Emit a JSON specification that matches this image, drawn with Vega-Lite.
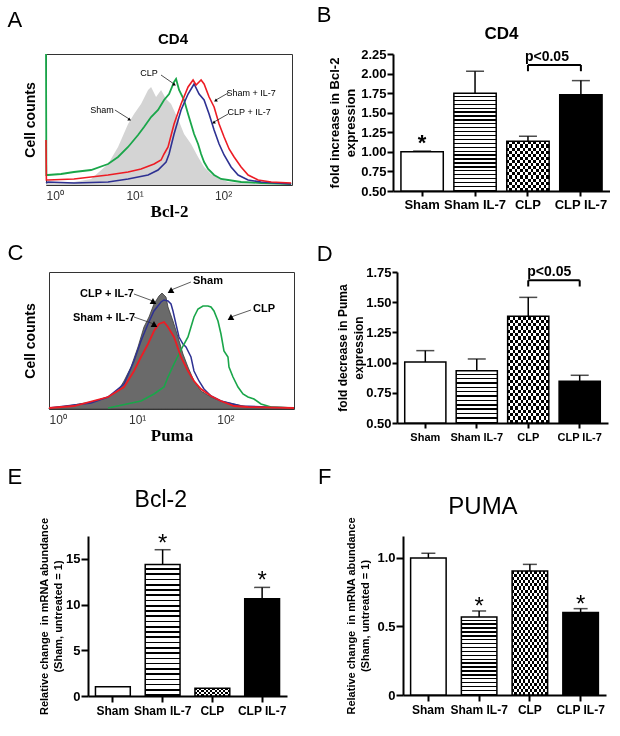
{
"$schema":"https://vega.github.io/schema/vega-lite/v6.json",
"padding":{"left":0,"top":4,"right":0,"bottom":0},
"background":"#ffffff",
"params":[
{"name":"st25","value":{"gradient":"linear","x1":0,"y1":0,"x2":0,"y2":1,"stops":[{"offset":0,"color":"#fff"},{"offset":0.027,"color":"#fff"},{"offset":0.027,"color":"#000"},{"offset":0.04,"color":"#000"},{"offset":0.04,"color":"#fff"},{"offset":0.067,"color":"#fff"},{"offset":0.067,"color":"#000"},{"offset":0.08,"color":"#000"},{"offset":0.08,"color":"#fff"},{"offset":0.107,"color":"#fff"},{"offset":0.107,"color":"#000"},{"offset":0.12,"color":"#000"},{"offset":0.12,"color":"#fff"},{"offset":0.147,"color":"#fff"},{"offset":0.147,"color":"#000"},{"offset":0.16,"color":"#000"},{"offset":0.16,"color":"#fff"},{"offset":0.187,"color":"#fff"},{"offset":0.187,"color":"#000"},{"offset":0.2,"color":"#000"},{"offset":0.2,"color":"#fff"},{"offset":0.227,"color":"#fff"},{"offset":0.227,"color":"#000"},{"offset":0.24,"color":"#000"},{"offset":0.24,"color":"#fff"},{"offset":0.267,"color":"#fff"},{"offset":0.267,"color":"#000"},{"offset":0.28,"color":"#000"},{"offset":0.28,"color":"#fff"},{"offset":0.307,"color":"#fff"},{"offset":0.307,"color":"#000"},{"offset":0.32,"color":"#000"},{"offset":0.32,"color":"#fff"},{"offset":0.347,"color":"#fff"},{"offset":0.347,"color":"#000"},{"offset":0.36,"color":"#000"},{"offset":0.36,"color":"#fff"},{"offset":0.387,"color":"#fff"},{"offset":0.387,"color":"#000"},{"offset":0.4,"color":"#000"},{"offset":0.4,"color":"#fff"},{"offset":0.427,"color":"#fff"},{"offset":0.427,"color":"#000"},{"offset":0.44,"color":"#000"},{"offset":0.44,"color":"#fff"},{"offset":0.467,"color":"#fff"},{"offset":0.467,"color":"#000"},{"offset":0.48,"color":"#000"},{"offset":0.48,"color":"#fff"},{"offset":0.507,"color":"#fff"},{"offset":0.507,"color":"#000"},{"offset":0.52,"color":"#000"},{"offset":0.52,"color":"#fff"},{"offset":0.547,"color":"#fff"},{"offset":0.547,"color":"#000"},{"offset":0.56,"color":"#000"},{"offset":0.56,"color":"#fff"},{"offset":0.587,"color":"#fff"},{"offset":0.587,"color":"#000"},{"offset":0.6,"color":"#000"},{"offset":0.6,"color":"#fff"},{"offset":0.627,"color":"#fff"},{"offset":0.627,"color":"#000"},{"offset":0.64,"color":"#000"},{"offset":0.64,"color":"#fff"},{"offset":0.667,"color":"#fff"},{"offset":0.667,"color":"#000"},{"offset":0.68,"color":"#000"},{"offset":0.68,"color":"#fff"},{"offset":0.707,"color":"#fff"},{"offset":0.707,"color":"#000"},{"offset":0.72,"color":"#000"},{"offset":0.72,"color":"#fff"},{"offset":0.747,"color":"#fff"},{"offset":0.747,"color":"#000"},{"offset":0.76,"color":"#000"},{"offset":0.76,"color":"#fff"},{"offset":0.787,"color":"#fff"},{"offset":0.787,"color":"#000"},{"offset":0.8,"color":"#000"},{"offset":0.8,"color":"#fff"},{"offset":0.827,"color":"#fff"},{"offset":0.827,"color":"#000"},{"offset":0.84,"color":"#000"},{"offset":0.84,"color":"#fff"},{"offset":0.867,"color":"#fff"},{"offset":0.867,"color":"#000"},{"offset":0.88,"color":"#000"},{"offset":0.88,"color":"#fff"},{"offset":0.907,"color":"#fff"},{"offset":0.907,"color":"#000"},{"offset":0.92,"color":"#000"},{"offset":0.92,"color":"#fff"},{"offset":0.947,"color":"#fff"},{"offset":0.947,"color":"#000"},{"offset":0.96,"color":"#000"},{"offset":0.96,"color":"#fff"},{"offset":0.987,"color":"#fff"},{"offset":0.987,"color":"#000"},{"offset":1,"color":"#000"}]}},
{"name":"st12","value":{"gradient":"linear","x1":0,"y1":0,"x2":0,"y2":1,"stops":[{"offset":0,"color":"#fff"},{"offset":0.0556,"color":"#fff"},{"offset":0.0556,"color":"#000"},{"offset":0.0833,"color":"#000"},{"offset":0.0833,"color":"#fff"},{"offset":0.1389,"color":"#fff"},{"offset":0.1389,"color":"#000"},{"offset":0.1667,"color":"#000"},{"offset":0.1667,"color":"#fff"},{"offset":0.2222,"color":"#fff"},{"offset":0.2222,"color":"#000"},{"offset":0.25,"color":"#000"},{"offset":0.25,"color":"#fff"},{"offset":0.3056,"color":"#fff"},{"offset":0.3056,"color":"#000"},{"offset":0.3333,"color":"#000"},{"offset":0.3333,"color":"#fff"},{"offset":0.3889,"color":"#fff"},{"offset":0.3889,"color":"#000"},{"offset":0.4167,"color":"#000"},{"offset":0.4167,"color":"#fff"},{"offset":0.4722,"color":"#fff"},{"offset":0.4722,"color":"#000"},{"offset":0.5,"color":"#000"},{"offset":0.5,"color":"#fff"},{"offset":0.5556,"color":"#fff"},{"offset":0.5556,"color":"#000"},{"offset":0.5833,"color":"#000"},{"offset":0.5833,"color":"#fff"},{"offset":0.6389,"color":"#fff"},{"offset":0.6389,"color":"#000"},{"offset":0.6667,"color":"#000"},{"offset":0.6667,"color":"#fff"},{"offset":0.7222,"color":"#fff"},{"offset":0.7222,"color":"#000"},{"offset":0.75,"color":"#000"},{"offset":0.75,"color":"#fff"},{"offset":0.8056,"color":"#fff"},{"offset":0.8056,"color":"#000"},{"offset":0.8333,"color":"#000"},{"offset":0.8333,"color":"#fff"},{"offset":0.8889,"color":"#fff"},{"offset":0.8889,"color":"#000"},{"offset":0.9167,"color":"#000"},{"offset":0.9167,"color":"#fff"},{"offset":0.9722,"color":"#fff"},{"offset":0.9722,"color":"#000"},{"offset":1,"color":"#000"}]}},
{"name":"st20","value":{"gradient":"linear","x1":0,"y1":0,"x2":0,"y2":1,"stops":[{"offset":0,"color":"#fff"},{"offset":0.033,"color":"#fff"},{"offset":0.033,"color":"#000"},{"offset":0.05,"color":"#000"},{"offset":0.05,"color":"#fff"},{"offset":0.083,"color":"#fff"},{"offset":0.083,"color":"#000"},{"offset":0.1,"color":"#000"},{"offset":0.1,"color":"#fff"},{"offset":0.133,"color":"#fff"},{"offset":0.133,"color":"#000"},{"offset":0.15,"color":"#000"},{"offset":0.15,"color":"#fff"},{"offset":0.183,"color":"#fff"},{"offset":0.183,"color":"#000"},{"offset":0.2,"color":"#000"},{"offset":0.2,"color":"#fff"},{"offset":0.233,"color":"#fff"},{"offset":0.233,"color":"#000"},{"offset":0.25,"color":"#000"},{"offset":0.25,"color":"#fff"},{"offset":0.283,"color":"#fff"},{"offset":0.283,"color":"#000"},{"offset":0.3,"color":"#000"},{"offset":0.3,"color":"#fff"},{"offset":0.333,"color":"#fff"},{"offset":0.333,"color":"#000"},{"offset":0.35,"color":"#000"},{"offset":0.35,"color":"#fff"},{"offset":0.383,"color":"#fff"},{"offset":0.383,"color":"#000"},{"offset":0.4,"color":"#000"},{"offset":0.4,"color":"#fff"},{"offset":0.433,"color":"#fff"},{"offset":0.433,"color":"#000"},{"offset":0.45,"color":"#000"},{"offset":0.45,"color":"#fff"},{"offset":0.483,"color":"#fff"},{"offset":0.483,"color":"#000"},{"offset":0.5,"color":"#000"},{"offset":0.5,"color":"#fff"},{"offset":0.533,"color":"#fff"},{"offset":0.533,"color":"#000"},{"offset":0.55,"color":"#000"},{"offset":0.55,"color":"#fff"},{"offset":0.583,"color":"#fff"},{"offset":0.583,"color":"#000"},{"offset":0.6,"color":"#000"},{"offset":0.6,"color":"#fff"},{"offset":0.633,"color":"#fff"},{"offset":0.633,"color":"#000"},{"offset":0.65,"color":"#000"},{"offset":0.65,"color":"#fff"},{"offset":0.683,"color":"#fff"},{"offset":0.683,"color":"#000"},{"offset":0.7,"color":"#000"},{"offset":0.7,"color":"#fff"},{"offset":0.733,"color":"#fff"},{"offset":0.733,"color":"#000"},{"offset":0.75,"color":"#000"},{"offset":0.75,"color":"#fff"},{"offset":0.783,"color":"#fff"},{"offset":0.783,"color":"#000"},{"offset":0.8,"color":"#000"},{"offset":0.8,"color":"#fff"},{"offset":0.833,"color":"#fff"},{"offset":0.833,"color":"#000"},{"offset":0.85,"color":"#000"},{"offset":0.85,"color":"#fff"},{"offset":0.883,"color":"#fff"},{"offset":0.883,"color":"#000"},{"offset":0.9,"color":"#000"},{"offset":0.9,"color":"#fff"},{"offset":0.933,"color":"#fff"},{"offset":0.933,"color":"#000"},{"offset":0.95,"color":"#000"},{"offset":0.95,"color":"#fff"},{"offset":0.983,"color":"#fff"},{"offset":0.983,"color":"#000"},{"offset":1,"color":"#000"}]}},
{"name":"hb8","value":{"gradient":"linear","x1":0,"y1":0,"x2":0,"y2":1,"stops":[{"offset":0,"color":"#fff"},{"offset":0.0625,"color":"#fff"},{"offset":0.0625,"color":"#000"},{"offset":0.125,"color":"#000"},{"offset":0.125,"color":"#fff"},{"offset":0.1875,"color":"#fff"},{"offset":0.1875,"color":"#000"},{"offset":0.25,"color":"#000"},{"offset":0.25,"color":"#fff"},{"offset":0.3125,"color":"#fff"},{"offset":0.3125,"color":"#000"},{"offset":0.375,"color":"#000"},{"offset":0.375,"color":"#fff"},{"offset":0.4375,"color":"#fff"},{"offset":0.4375,"color":"#000"},{"offset":0.5,"color":"#000"},{"offset":0.5,"color":"#fff"},{"offset":0.5625,"color":"#fff"},{"offset":0.5625,"color":"#000"},{"offset":0.625,"color":"#000"},{"offset":0.625,"color":"#fff"},{"offset":0.6875,"color":"#fff"},{"offset":0.6875,"color":"#000"},{"offset":0.75,"color":"#000"},{"offset":0.75,"color":"#fff"},{"offset":0.8125,"color":"#fff"},{"offset":0.8125,"color":"#000"},{"offset":0.875,"color":"#000"},{"offset":0.875,"color":"#fff"},{"offset":0.9375,"color":"#fff"},{"offset":0.9375,"color":"#000"},{"offset":1,"color":"#000"}]}},
{"name":"vb8","value":{"gradient":"linear","x1":0,"y1":0,"x2":1,"y2":0,"stops":[{"offset":0,"color":"#fff"},{"offset":0.0625,"color":"#fff"},{"offset":0.0625,"color":"#000"},{"offset":0.125,"color":"#000"},{"offset":0.125,"color":"#fff"},{"offset":0.1875,"color":"#fff"},{"offset":0.1875,"color":"#000"},{"offset":0.25,"color":"#000"},{"offset":0.25,"color":"#fff"},{"offset":0.3125,"color":"#fff"},{"offset":0.3125,"color":"#000"},{"offset":0.375,"color":"#000"},{"offset":0.375,"color":"#fff"},{"offset":0.4375,"color":"#fff"},{"offset":0.4375,"color":"#000"},{"offset":0.5,"color":"#000"},{"offset":0.5,"color":"#fff"},{"offset":0.5625,"color":"#fff"},{"offset":0.5625,"color":"#000"},{"offset":0.625,"color":"#000"},{"offset":0.625,"color":"#fff"},{"offset":0.6875,"color":"#fff"},{"offset":0.6875,"color":"#000"},{"offset":0.75,"color":"#000"},{"offset":0.75,"color":"#fff"},{"offset":0.8125,"color":"#fff"},{"offset":0.8125,"color":"#000"},{"offset":0.875,"color":"#000"},{"offset":0.875,"color":"#fff"},{"offset":0.9375,"color":"#fff"},{"offset":0.9375,"color":"#000"},{"offset":1,"color":"#000"}]}},
{"name":"hb16","value":{"gradient":"linear","x1":0,"y1":0,"x2":0,"y2":1,"stops":[{"offset":0,"color":"#fff"},{"offset":0.03125,"color":"#fff"},{"offset":0.03125,"color":"#000"},{"offset":0.0625,"color":"#000"},{"offset":0.0625,"color":"#fff"},{"offset":0.09375,"color":"#fff"},{"offset":0.09375,"color":"#000"},{"offset":0.125,"color":"#000"},{"offset":0.125,"color":"#fff"},{"offset":0.15625,"color":"#fff"},{"offset":0.15625,"color":"#000"},{"offset":0.1875,"color":"#000"},{"offset":0.1875,"color":"#fff"},{"offset":0.21875,"color":"#fff"},{"offset":0.21875,"color":"#000"},{"offset":0.25,"color":"#000"},{"offset":0.25,"color":"#fff"},{"offset":0.28125,"color":"#fff"},{"offset":0.28125,"color":"#000"},{"offset":0.3125,"color":"#000"},{"offset":0.3125,"color":"#fff"},{"offset":0.34375,"color":"#fff"},{"offset":0.34375,"color":"#000"},{"offset":0.375,"color":"#000"},{"offset":0.375,"color":"#fff"},{"offset":0.40625,"color":"#fff"},{"offset":0.40625,"color":"#000"},{"offset":0.4375,"color":"#000"},{"offset":0.4375,"color":"#fff"},{"offset":0.46875,"color":"#fff"},{"offset":0.46875,"color":"#000"},{"offset":0.5,"color":"#000"},{"offset":0.5,"color":"#fff"},{"offset":0.53125,"color":"#fff"},{"offset":0.53125,"color":"#000"},{"offset":0.5625,"color":"#000"},{"offset":0.5625,"color":"#fff"},{"offset":0.59375,"color":"#fff"},{"offset":0.59375,"color":"#000"},{"offset":0.625,"color":"#000"},{"offset":0.625,"color":"#fff"},{"offset":0.65625,"color":"#fff"},{"offset":0.65625,"color":"#000"},{"offset":0.6875,"color":"#000"},{"offset":0.6875,"color":"#fff"},{"offset":0.71875,"color":"#fff"},{"offset":0.71875,"color":"#000"},{"offset":0.75,"color":"#000"},{"offset":0.75,"color":"#fff"},{"offset":0.78125,"color":"#fff"},{"offset":0.78125,"color":"#000"},{"offset":0.8125,"color":"#000"},{"offset":0.8125,"color":"#fff"},{"offset":0.84375,"color":"#fff"},{"offset":0.84375,"color":"#000"},{"offset":0.875,"color":"#000"},{"offset":0.875,"color":"#fff"},{"offset":0.90625,"color":"#fff"},{"offset":0.90625,"color":"#000"},{"offset":0.9375,"color":"#000"},{"offset":0.9375,"color":"#fff"},{"offset":0.96875,"color":"#fff"},{"offset":0.96875,"color":"#000"},{"offset":1,"color":"#000"}]}},
{"name":"hb20","value":{"gradient":"linear","x1":0,"y1":0,"x2":0,"y2":1,"stops":[{"offset":0,"color":"#fff"},{"offset":0.025,"color":"#fff"},{"offset":0.025,"color":"#000"},{"offset":0.05,"color":"#000"},{"offset":0.05,"color":"#fff"},{"offset":0.075,"color":"#fff"},{"offset":0.075,"color":"#000"},{"offset":0.1,"color":"#000"},{"offset":0.1,"color":"#fff"},{"offset":0.125,"color":"#fff"},{"offset":0.125,"color":"#000"},{"offset":0.15,"color":"#000"},{"offset":0.15,"color":"#fff"},{"offset":0.175,"color":"#fff"},{"offset":0.175,"color":"#000"},{"offset":0.2,"color":"#000"},{"offset":0.2,"color":"#fff"},{"offset":0.225,"color":"#fff"},{"offset":0.225,"color":"#000"},{"offset":0.25,"color":"#000"},{"offset":0.25,"color":"#fff"},{"offset":0.275,"color":"#fff"},{"offset":0.275,"color":"#000"},{"offset":0.3,"color":"#000"},{"offset":0.3,"color":"#fff"},{"offset":0.325,"color":"#fff"},{"offset":0.325,"color":"#000"},{"offset":0.35,"color":"#000"},{"offset":0.35,"color":"#fff"},{"offset":0.375,"color":"#fff"},{"offset":0.375,"color":"#000"},{"offset":0.4,"color":"#000"},{"offset":0.4,"color":"#fff"},{"offset":0.425,"color":"#fff"},{"offset":0.425,"color":"#000"},{"offset":0.45,"color":"#000"},{"offset":0.45,"color":"#fff"},{"offset":0.475,"color":"#fff"},{"offset":0.475,"color":"#000"},{"offset":0.5,"color":"#000"},{"offset":0.5,"color":"#fff"},{"offset":0.525,"color":"#fff"},{"offset":0.525,"color":"#000"},{"offset":0.55,"color":"#000"},{"offset":0.55,"color":"#fff"},{"offset":0.575,"color":"#fff"},{"offset":0.575,"color":"#000"},{"offset":0.6,"color":"#000"},{"offset":0.6,"color":"#fff"},{"offset":0.625,"color":"#fff"},{"offset":0.625,"color":"#000"},{"offset":0.65,"color":"#000"},{"offset":0.65,"color":"#fff"},{"offset":0.675,"color":"#fff"},{"offset":0.675,"color":"#000"},{"offset":0.7,"color":"#000"},{"offset":0.7,"color":"#fff"},{"offset":0.725,"color":"#fff"},{"offset":0.725,"color":"#000"},{"offset":0.75,"color":"#000"},{"offset":0.75,"color":"#fff"},{"offset":0.775,"color":"#fff"},{"offset":0.775,"color":"#000"},{"offset":0.8,"color":"#000"},{"offset":0.8,"color":"#fff"},{"offset":0.825,"color":"#fff"},{"offset":0.825,"color":"#000"},{"offset":0.85,"color":"#000"},{"offset":0.85,"color":"#fff"},{"offset":0.875,"color":"#fff"},{"offset":0.875,"color":"#000"},{"offset":0.9,"color":"#000"},{"offset":0.9,"color":"#fff"},{"offset":0.925,"color":"#fff"},{"offset":0.925,"color":"#000"},{"offset":0.95,"color":"#000"},{"offset":0.95,"color":"#fff"},{"offset":0.975,"color":"#fff"},{"offset":0.975,"color":"#000"},{"offset":1,"color":"#000"}]}},
{"name":"hb2","value":{"gradient":"linear","x1":0,"y1":0,"x2":0,"y2":1,"stops":[{"offset":0,"color":"#fff"},{"offset":0.25,"color":"#fff"},{"offset":0.25,"color":"#000"},{"offset":0.5,"color":"#000"},{"offset":0.5,"color":"#fff"},{"offset":0.75,"color":"#fff"},{"offset":0.75,"color":"#000"},{"offset":1,"color":"#000"}]}}
],
"config":{
"view":{"stroke":null},
"font":"Liberation Sans",
"axis":{"grid":false,"domainColor":"#000","tickColor":"#000","labelColor":"#000","titleColor":"#000","labelFont":"Liberation Sans","titleFont":"Liberation Sans"},
"title":{"color":"#000","font":"Liberation Sans"},
"text":{"font":"Liberation Sans","color":"#000"}
},
"datasets":{
"histA":[
{"s":"Sham","v":1,"c":3},{"s":"Sham","v":2.07,"c":3},{"s":"Sham","v":3.23,"c":6},{"s":"Sham","v":5.02,"c":21},{"s":"Sham","v":6.51,"c":38},{"s":"Sham","v":8.45,"c":61},{"s":"Sham","v":9.87,"c":71},{"s":"Sham","v":11.84,"c":81},{"s":"Sham","v":14.21,"c":95},{"s":"Sham","v":15.37,"c":98},{"s":"Sham","v":17.5,"c":88},{"s":"Sham","v":19.93,"c":95},{"s":"Sham","v":22.7,"c":86},{"s":"Sham","v":25.85,"c":81},{"s":"Sham","v":31,"c":66},{"s":"Sham","v":36.25,"c":51},{"s":"Sham","v":43.49,"c":41},{"s":"Sham","v":52.19,"c":28},{"s":"Sham","v":61,"c":18},{"s":"Sham","v":73.2,"c":11},{"s":"Sham","v":94.9,"c":6},{"s":"Sham","v":113.9,"c":3},{"s":"Sham","v":210,"c":1},{"s":"Sham","v":600,"c":0},
{"s":"CLP","v":1,"c":131},{"s":"CLP","v":1.01,"c":10},{"s":"CLP","v":1.05,"c":10},{"s":"CLP","v":1.48,"c":11},{"s":"CLP","v":2.07,"c":13},{"s":"CLP","v":3.23,"c":15},{"s":"CLP","v":5.02,"c":21},{"s":"CLP","v":6.51,"c":28},{"s":"CLP","v":8.45,"c":38},{"s":"CLP","v":10.95,"c":50},{"s":"CLP","v":12.8,"c":58},{"s":"CLP","v":15.37,"c":68},{"s":"CLP","v":18.43,"c":75},{"s":"CLP","v":21.54,"c":85},{"s":"CLP","v":24.54,"c":91},{"s":"CLP","v":27.94,"c":103},{"s":"CLP","v":29.44,"c":106},{"s":"CLP","v":31.83,"c":95},{"s":"CLP","v":36.25,"c":85},{"s":"CLP","v":40.21,"c":71},{"s":"CLP","v":43.49,"c":61},{"s":"CLP","v":47.02,"c":51},{"s":"CLP","v":52.19,"c":41},{"s":"CLP","v":56.42,"c":31},{"s":"CLP","v":61,"c":23},{"s":"CLP","v":67.69,"c":16},{"s":"CLP","v":79.14,"c":10},{"s":"CLP","v":94.93,"c":6},{"s":"CLP","v":113.9,"c":5},{"s":"CLP","v":159.7,"c":3},{"s":"CLP","v":268.8,"c":2},{"s":"CLP","v":586.7,"c":1},
{"s":"CLP + IL-7","v":1,"c":2},{"s":"CLP + IL-7","v":1.05,"c":3},{"s":"CLP + IL-7","v":2.07,"c":2},{"s":"CLP + IL-7","v":5.02,"c":3},{"s":"CLP + IL-7","v":8.45,"c":6},{"s":"CLP + IL-7","v":14.21,"c":10},{"s":"CLP + IL-7","v":18.43,"c":15},{"s":"CLP + IL-7","v":22.7,"c":23},{"s":"CLP + IL-7","v":24.54,"c":31},{"s":"CLP + IL-7","v":27.94,"c":51},{"s":"CLP + IL-7","v":33.52,"c":75},{"s":"CLP + IL-7","v":40.21,"c":91},{"s":"CLP + IL-7","v":47.02,"c":101},{"s":"CLP + IL-7","v":53.56,"c":91},{"s":"CLP + IL-7","v":61,"c":85},{"s":"CLP + IL-7","v":69.47,"c":71},{"s":"CLP + IL-7","v":79.14,"c":55},{"s":"CLP + IL-7","v":90.12,"c":41},{"s":"CLP + IL-7","v":102.6,"c":30},{"s":"CLP + IL-7","v":123.1,"c":18},{"s":"CLP + IL-7","v":147.7,"c":10},{"s":"CLP + IL-7","v":191.7,"c":5},{"s":"CLP + IL-7","v":268.8,"c":3},{"s":"CLP + IL-7","v":586.7,"c":1},
{"s":"Sham + IL-7","v":1,"c":45},{"s":"Sham + IL-7","v":1.01,"c":5},{"s":"Sham + IL-7","v":1.05,"c":5},{"s":"Sham + IL-7","v":2.07,"c":6},{"s":"Sham + IL-7","v":5.02,"c":10},{"s":"Sham + IL-7","v":8.45,"c":13},{"s":"Sham + IL-7","v":11.84,"c":16},{"s":"Sham + IL-7","v":16.61,"c":21},{"s":"Sham + IL-7","v":19.93,"c":25},{"s":"Sham + IL-7","v":21.54,"c":31},{"s":"Sham + IL-7","v":23.9,"c":38},{"s":"Sham + IL-7","v":27.94,"c":61},{"s":"Sham + IL-7","v":33.52,"c":81},{"s":"Sham + IL-7","v":40.21,"c":98},{"s":"Sham + IL-7","v":45.81,"c":105},{"s":"Sham + IL-7","v":49.53,"c":100},{"s":"Sham + IL-7","v":56.42,"c":105},{"s":"Sham + IL-7","v":61,"c":101},{"s":"Sham + IL-7","v":69.47,"c":88},{"s":"Sham + IL-7","v":79.14,"c":78},{"s":"Sham + IL-7","v":90.12,"c":61},{"s":"Sham + IL-7","v":102.6,"c":48},{"s":"Sham + IL-7","v":116.9,"c":36},{"s":"Sham + IL-7","v":133.2,"c":28},{"s":"Sham + IL-7","v":159.7,"c":18},{"s":"Sham + IL-7","v":191.7,"c":10},{"s":"Sham + IL-7","v":248.6,"c":5},{"s":"Sham + IL-7","v":348.7,"c":3},{"s":"Sham + IL-7","v":586.7,"c":2}
],
"histC":[
{"s":"Sham","v":1,"c":1},{"s":"Sham","v":1.37,"c":2},{"s":"Sham","v":2.99,"c":7},{"s":"Sham","v":4.67,"c":12},{"s":"Sham","v":6.06,"c":18},{"s":"Sham","v":7.09,"c":28},{"s":"Sham","v":8.51,"c":42},{"s":"Sham","v":10.21,"c":62},{"s":"Sham","v":11.94,"c":82},{"s":"Sham","v":13.61,"c":92},{"s":"Sham","v":15.5,"c":105},{"s":"Sham","v":17.67,"c":113},{"s":"Sham","v":19.11,"c":116},{"s":"Sham","v":21.21,"c":112},{"s":"Sham","v":22.35,"c":102},{"s":"Sham","v":25.46,"c":88},{"s":"Sham","v":29.01,"c":72},{"s":"Sham","v":33.06,"c":55},{"s":"Sham","v":37.67,"c":42},{"s":"Sham","v":44.06,"c":28},{"s":"Sham","v":52.89,"c":18},{"s":"Sham","v":68.66,"c":12},{"s":"Sham","v":89.15,"c":8},{"s":"Sham","v":125.2,"c":5},{"s":"Sham","v":180.4,"c":2},{"s":"Sham","v":600,"c":1},
{"s":"CLP + IL-7","v":1,"c":1},{"s":"CLP + IL-7","v":2.99,"c":6},{"s":"CLP + IL-7","v":4.67,"c":12},{"s":"CLP + IL-7","v":7.09,"c":25},{"s":"CLP + IL-7","v":9.2,"c":48},{"s":"CLP + IL-7","v":11.04,"c":68},{"s":"CLP + IL-7","v":13.26,"c":85},{"s":"CLP + IL-7","v":15.5,"c":98},{"s":"CLP + IL-7","v":18.62,"c":107},{"s":"CLP + IL-7","v":20.14,"c":109},{"s":"CLP + IL-7","v":22.35,"c":108},{"s":"CLP + IL-7","v":24.17,"c":105},{"s":"CLP + IL-7","v":25.46,"c":98},{"s":"CLP + IL-7","v":27.5,"c":85},{"s":"CLP + IL-7","v":29.78,"c":72},{"s":"CLP + IL-7","v":33.06,"c":65},{"s":"CLP + IL-7","v":35.75,"c":62},{"s":"CLP + IL-7","v":40.74,"c":52},{"s":"CLP + IL-7","v":44.06,"c":38},{"s":"CLP + IL-7","v":50.2,"c":28},{"s":"CLP + IL-7","v":57.21,"c":20},{"s":"CLP + IL-7","v":68.66,"c":13},{"s":"CLP + IL-7","v":89.15,"c":8},{"s":"CLP + IL-7","v":150.3,"c":3},{"s":"CLP + IL-7","v":600,"c":1},
{"s":"CLP","v":4.67,"c":1},{"s":"CLP","v":11.04,"c":8},{"s":"CLP","v":15.5,"c":15},{"s":"CLP","v":20.14,"c":22},{"s":"CLP","v":22.35,"c":32},{"s":"CLP","v":26.14,"c":45},{"s":"CLP","v":29.78,"c":55},{"s":"CLP","v":33.06,"c":63},{"s":"CLP","v":37.67,"c":72},{"s":"CLP","v":40.74,"c":82},{"s":"CLP","v":44.06,"c":92},{"s":"CLP","v":48.91,"c":100},{"s":"CLP","v":55.72,"c":103},{"s":"CLP","v":63.49,"c":103},{"s":"CLP","v":68.66,"c":102},{"s":"CLP","v":74.26,"c":98},{"s":"CLP","v":82.44,"c":88},{"s":"CLP","v":89.15,"c":75},{"s":"CLP","v":96.4,"c":58},{"s":"CLP","v":107,"c":52},{"s":"CLP","v":109.9,"c":42},{"s":"CLP","v":122,"c":32},{"s":"CLP","v":139,"c":22},{"s":"CLP","v":158.3,"c":15},{"s":"CLP","v":180.4,"c":12},{"s":"CLP","v":211,"c":10},{"s":"CLP","v":253.3,"c":5},{"s":"CLP","v":328.9,"c":2},{"s":"CLP","v":600,"c":1},
{"s":"Sham + IL-7","v":1,"c":1},{"s":"Sham + IL-7","v":1.92,"c":3},{"s":"Sham + IL-7","v":4.67,"c":12},{"s":"Sham + IL-7","v":7.09,"c":22},{"s":"Sham + IL-7","v":9.2,"c":38},{"s":"Sham + IL-7","v":11.04,"c":52},{"s":"Sham + IL-7","v":13.26,"c":65},{"s":"Sham + IL-7","v":15.5,"c":78},{"s":"Sham + IL-7","v":17.67,"c":85},{"s":"Sham + IL-7","v":20.14,"c":87},{"s":"Sham + IL-7","v":22.35,"c":82},{"s":"Sham + IL-7","v":26.14,"c":72},{"s":"Sham + IL-7","v":31.37,"c":52},{"s":"Sham + IL-7","v":37.67,"c":38},{"s":"Sham + IL-7","v":44.06,"c":28},{"s":"Sham + IL-7","v":52.89,"c":20},{"s":"Sham + IL-7","v":68.66,"c":13},{"s":"Sham + IL-7","v":89.15,"c":8},{"s":"Sham + IL-7","v":125.2,"c":3},{"s":"Sham + IL-7","v":180.4,"c":2},{"s":"Sham + IL-7","v":600,"c":1}
],
"annA":[
{"label":"CLP","tx":14.6,"ty":112,"x1":19.9,"y1":110,"x2":27.9,"y2":101},
{"label":"Sham","tx":4.3,"ty":75,"x1":6.0,"y1":75,"x2":8.7,"y2":66},
{"label":"Sham + IL-7","tx":207,"ty":92,"x1":114,"y1":92,"x2":83,"y2":85},
{"label":"CLP + IL-7","tx":197,"ty":73,"x1":114,"y1":71,"x2":79,"y2":63}
],
"annC":[
{"label":"Sham","tx":63.5,"ty":128,"x1":40.7,"y1":127,"x2":24.2,"y2":119},
{"label":"CLP + IL-7","tx":4.55,"ty":115,"x1":9.2,"y1":115,"x2":15.1,"y2":108},
{"label":"Sham + IL-7","tx":4.2,"ty":91,"x1":9.2,"y1":92,"x2":15.5,"y2":85},
{"label":"CLP","tx":274,"ty":100,"x1":195,"y1":99,"x2":115.7,"y2":92}
],
"barB":[{"g":"Sham","m":1.0,"e":1.01,"sig":"*"},{"g":"Sham IL-7","m":1.75,"e":2.03,"sig":""},{"g":"CLP","m":1.135,"e":1.2,"sig":""},{"g":"CLP IL-7","m":1.73,"e":1.91,"sig":""}],
"barD":[{"g":"Sham","m":1.005,"e":1.099,"sig":""},{"g":"Sham IL-7","m":0.933,"e":1.03,"sig":""},{"g":"CLP","m":1.383,"e":1.54,"sig":""},{"g":"CLP IL-7","m":0.845,"e":0.895,"sig":""}],
"barE":[{"g":"Sham","m":1.0,"e":1.0,"sig":""},{"g":"Sham IL-7","m":14.37,"e":16.0,"sig":"*"},{"g":"CLP","m":0.85,"e":0.85,"sig":""},{"g":"CLP IL-7","m":10.65,"e":11.88,"sig":"*"}],
"barF":[{"g":"Sham","m":1.0,"e":1.034,"sig":""},{"g":"Sham IL-7","m":0.569,"e":0.613,"sig":"*"},{"g":"CLP","m":0.905,"e":0.953,"sig":""},{"g":"CLP IL-7","m":0.601,"e":0.63,"sig":"*"}],
"brB":[{"from":"CLP","to":"CLP IL-7","y":2.11,"yl":2.03,"label":"p<0.05"}],
"brD":[{"from":"CLP","to":"CLP IL-7","y":1.681,"yl":1.63,"label":"p<0.05"}]
},
"spacing":21,
"vconcat":[
{"spacing":20,"hconcat":[
 {"spacing":0,"hconcat":[
  {"width":7,"height":10,"data":{"values":[]},"mark":{"type":"point","opacity":0}},
  {"title":{"text":"A","anchor":"start","frame":"bounds","fontSize":22,"fontWeight":"normal","dx":-15,"offset":0},
   "vconcat":[{
    "width":246,"height":131,
    "view":{"stroke":"#333","strokeWidth":1},
    "title":{"text":"CD4","fontSize":15,"fontWeight":"bold","frame":"group","offset":3,"dx":4},
    "encoding":{
     "x":{"field":"v","type":"quantitative","scale":{"type":"log","domain":[1,600],"nice":false},"axis":{"title":"Bcl-2","titleFont":"Liberation Serif","titleFontSize":17,"titleFontWeight":"bold","values":[1,10,100],"labelExpr":"datum.value==1?'10⁰':datum.value==10?'10¹':'10²'","ticks":false,"domain":false,"labelFontSize":12,"labelColor":"#333","labelPadding":5,"titlePadding":2,"labelFlush":true}},
     "y":{"field":"c","type":"quantitative","scale":{"domain":[0,131],"nice":false},"axis":{"title":"Cell counts","labels":false,"ticks":false,"domain":false,"titleFontSize":14,"titleFontWeight":"bold","titlePadding":9}}
    },
    "layer":[
     {"data":{"name":"histA"},"transform":[{"filter":"datum.s==='Sham'"}],"mark":{"type":"area","color":"#d4d4d4"}},
     {"data":{"name":"histA"},"transform":[{"filter":"datum.s==='CLP'"}],"mark":{"type":"line","color":"#1aa64a","strokeWidth":1.8}},
     {"data":{"name":"histA"},"transform":[{"filter":"datum.s==='CLP + IL-7'"}],"mark":{"type":"line","color":"#2e3192","strokeWidth":1.6}},
     {"data":{"name":"histA"},"transform":[{"filter":"datum.s==='Sham + IL-7'"}],"mark":{"type":"line","color":"#ed1c24","strokeWidth":1.6}},
     {"data":{"name":"annA"},"mark":{"type":"rule","color":"#222","strokeWidth":0.8},"encoding":{"x":{"field":"x1","type":"quantitative"},"y":{"field":"y1","type":"quantitative"},"x2":{"field":"x2"},"y2":{"field":"y2"}}},
     {"data":{"name":"annA"},"mark":{"type":"point","shape":"triangle-up","filled":true,"color":"#000","size":14,"opacity":1},"encoding":{"x":{"field":"x2","type":"quantitative"},"y":{"field":"y2","type":"quantitative"}}},
     {"data":{"name":"annA"},"mark":{"type":"text","fontSize":9},"encoding":{"x":{"field":"tx","type":"quantitative"},"y":{"field":"ty","type":"quantitative"},"text":{"field":"label"}}}
    ]
   }]}
 ]},
 {"title":{"text":"B","anchor":"start","frame":"bounds","fontSize":22,"fontWeight":"normal","dx":-12,"offset":-2},
  "vconcat":[{
   "width":217,"height":137,
   "title":{"text":"CD4","fontSize":17,"fontWeight":"bold","frame":"group","offset":5},
   "data":{"name":"barB"},
   "encoding":{
    "x":{"field":"g","type":"nominal","sort":null,"scale":{"domain":["Sham","Sham IL-7","CLP","CLP IL-7"],"paddingInner":0.2,"paddingOuter":0.15},"axis":{"title":null,"labelAngle":0,"labelFontSize":13,"labelFontWeight":"bold","labelPadding":2,"tickSize":5,"tickWidth":2,"domainWidth":2,"labelOverlap":false,"labelBound":false}},
    "y":{"field":"m","type":"quantitative","scale":{"domain":[0.5,2.25],"nice":false,"zero":false},"axis":{"title":["fold increase in Bcl-2","expression"],"values":[0.5,0.75,1,1.25,1.5,1.75,2,2.25],"format":".2f","labelFontSize":13,"labelFontWeight":"bold","labelPadding":1,"tickSize":6,"tickWidth":2,"domainWidth":2,"titleFontSize":13,"titleFontWeight":"bold","titleLineHeight":16,"titlePadding":3}}
   },
   "layer":[
    {"mark":{"type":"bar","fill":"#fff"},"encoding":{"y2":{"datum":0.5}}},
    {"transform":[{"filter":"datum.g==='CLP IL-7'"}],"mark":{"type":"bar","fill":"#000"},"encoding":{"y2":{"datum":0.5}}},
    {"transform":[{"filter":"datum.g==='Sham IL-7'"}],"mark":{"type":"bar","fill":{"expr":"st25"}},"encoding":{"y2":{"datum":0.5}}},
    {"transform":[{"filter":"datum.g==='CLP'"}],"mark":{"type":"bar","fill":{"expr":"hb8"}},"encoding":{"y2":{"datum":0.5}}},
    {"transform":[{"filter":"datum.g==='CLP'"}],"mark":{"type":"bar","fill":{"expr":"vb8"},"blend":"difference"},"encoding":{"y2":{"datum":0.5}}},
    {"mark":{"type":"bar","fillOpacity":0,"stroke":"#000","strokeWidth":1.5},"encoding":{"y2":{"datum":0.5}}},
    {"mark":{"type":"rule","strokeWidth":1.5,"color":"#000"},"encoding":{"y2":{"field":"e"}}},
    {"mark":{"type":"tick","orient":"horizontal","size":18,"thickness":1.5,"color":"#000"},"encoding":{"y":{"field":"e","type":"quantitative"}}},
    {"transform":[{"filter":"datum.sig!==''"}],"mark":{"type":"text","fontSize":22,"fontWeight":"bold","baseline":"middle","dy":-8},"encoding":{"y":{"field":"e","type":"quantitative"},"text":{"field":"sig"}}},
    {"data":{"name":"brB"},"mark":{"type":"rule","strokeWidth":2,"color":"#000"},"encoding":{"x":{"field":"from","type":"nominal"},"x2":{"field":"to"},"y":{"field":"y","type":"quantitative"}}},
    {"data":{"name":"brB"},"mark":{"type":"rule","strokeWidth":2,"color":"#000"},"encoding":{"x":{"field":"from","type":"nominal"},"y":{"field":"y","type":"quantitative"},"y2":{"field":"yl"}}},
    {"data":{"name":"brB"},"mark":{"type":"rule","strokeWidth":2,"color":"#000"},"encoding":{"x":{"field":"to","type":"nominal"},"y":{"field":"y","type":"quantitative"},"y2":{"field":"yl"}}},
    {"data":{"name":"brB"},"mark":{"type":"text","fontSize":14,"fontWeight":"bold","align":"left","baseline":"alphabetic","dx":-3,"dy":-4},"encoding":{"x":{"field":"from","type":"nominal"},"y":{"field":"y","type":"quantitative"},"text":{"field":"label"}}}
   ]
  }]}
]},
{"spacing":17,"hconcat":[
 {"spacing":0,"hconcat":[
  {"width":7,"height":10,"data":{"values":[]},"mark":{"type":"point","opacity":0}},
  {"title":{"text":"C","anchor":"start","frame":"bounds","fontSize":22,"fontWeight":"normal","dx":-15,"offset":7},
   "vconcat":[{
    "width":245,"height":137,
    "view":{"stroke":"#333","strokeWidth":1},
    "encoding":{
     "x":{"field":"v","type":"quantitative","scale":{"type":"log","domain":[1,600],"nice":false},"axis":{"title":"Puma","titleFont":"Liberation Serif","titleFontSize":17,"titleFontWeight":"bold","values":[1,10,100],"labelExpr":"datum.value==1?'10⁰':datum.value==10?'10¹':'10²'","ticks":false,"domain":false,"labelFontSize":12,"labelColor":"#333","labelPadding":5,"titlePadding":2,"labelFlush":true}},
     "y":{"field":"c","type":"quantitative","scale":{"domain":[0,137],"nice":false},"axis":{"title":"Cell counts","labels":false,"ticks":false,"domain":false,"titleFontSize":14,"titleFontWeight":"bold","titlePadding":12}}
    },
    "layer":[
     {"data":{"name":"histC"},"transform":[{"filter":"datum.s==='Sham'"}],"mark":{"type":"area","color":"#6a6a6a","stroke":"#3a3a3a","strokeWidth":0.8}},
     {"data":{"name":"histC"},"transform":[{"filter":"datum.s==='CLP + IL-7'"}],"mark":{"type":"line","color":"#2e3192","strokeWidth":1.5}},
     {"data":{"name":"histC"},"transform":[{"filter":"datum.s==='CLP'"}],"mark":{"type":"line","color":"#1aa64a","strokeWidth":1.6}},
     {"data":{"name":"histC"},"transform":[{"filter":"datum.s==='Sham + IL-7'"}],"mark":{"type":"line","color":"#ed1c24","strokeWidth":1.8}},
     {"data":{"name":"annC"},"mark":{"type":"rule","color":"#333","strokeWidth":0.8},"encoding":{"x":{"field":"x1","type":"quantitative"},"y":{"field":"y1","type":"quantitative"},"x2":{"field":"x2"},"y2":{"field":"y2"}}},
     {"data":{"name":"annC"},"mark":{"type":"point","shape":"triangle-up","filled":true,"color":"#000","size":45,"opacity":1},"encoding":{"x":{"field":"x2","type":"quantitative"},"y":{"field":"y2","type":"quantitative"}}},
     {"data":{"name":"annC"},"mark":{"type":"text","fontSize":11,"fontWeight":"bold"},"encoding":{"x":{"field":"tx","type":"quantitative"},"y":{"field":"ty","type":"quantitative"},"text":{"field":"label"}}}
    ]
   }]}
 ]},
 {"title":{"text":"D","anchor":"start","frame":"bounds","fontSize":22,"fontWeight":"normal","dx":-20,"offset":-1},
  "vconcat":[{
   "width":211,"height":151,
   "data":{"name":"barD"},
   "encoding":{
    "x":{"field":"g","type":"nominal","sort":null,"scale":{"domain":["Sham","Sham IL-7","CLP","CLP IL-7"],"paddingInner":0.2,"paddingOuter":0.15},"axis":{"title":null,"labelAngle":0,"labelFontSize":11,"labelFontWeight":"bold","labelPadding":3,"tickSize":5,"tickWidth":2,"domainWidth":2,"labelOverlap":false,"labelBound":false}},
    "y":{"field":"m","type":"quantitative","scale":{"domain":[0.5,1.75],"nice":false,"zero":false},"axis":{"title":["fold decrease in Puma","expression"],"values":[0.5,0.75,1,1.25,1.5,1.75],"format":".2f","labelFontSize":13,"labelFontWeight":"bold","labelPadding":1,"tickSize":5,"tickWidth":2,"domainWidth":2,"titleFontSize":12,"titleFontWeight":"bold","titleLineHeight":16,"titlePadding":0}}
   },
   "layer":[
    {"mark":{"type":"bar","fill":"#fff"},"encoding":{"y2":{"datum":0.5}}},
    {"transform":[{"filter":"datum.g==='CLP IL-7'"}],"mark":{"type":"bar","fill":"#000"},"encoding":{"y2":{"datum":0.5}}},
    {"transform":[{"filter":"datum.g==='Sham IL-7'"}],"mark":{"type":"bar","fill":{"expr":"st12"}},"encoding":{"y2":{"datum":0.5}}},
    {"transform":[{"filter":"datum.g==='CLP'"}],"mark":{"type":"bar","fill":{"expr":"hb16"}},"encoding":{"y2":{"datum":0.5}}},
    {"transform":[{"filter":"datum.g==='CLP'"}],"mark":{"type":"bar","fill":{"expr":"vb8"},"blend":"difference"},"encoding":{"y2":{"datum":0.5}}},
    {"mark":{"type":"bar","fillOpacity":0,"stroke":"#000","strokeWidth":1.5},"encoding":{"y2":{"datum":0.5}}},
    {"mark":{"type":"rule","strokeWidth":1.5,"color":"#000"},"encoding":{"y2":{"field":"e"}}},
    {"mark":{"type":"tick","orient":"horizontal","size":18,"thickness":1.5,"color":"#000"},"encoding":{"y":{"field":"e","type":"quantitative"}}},
    {"data":{"name":"brD"},"mark":{"type":"rule","strokeWidth":2,"color":"#000"},"encoding":{"x":{"field":"from","type":"nominal"},"x2":{"field":"to"},"y":{"field":"y","type":"quantitative"}}},
    {"data":{"name":"brD"},"mark":{"type":"rule","strokeWidth":2,"color":"#000"},"encoding":{"x":{"field":"from","type":"nominal"},"y":{"field":"y","type":"quantitative"},"y2":{"field":"yl"}}},
    {"data":{"name":"brD"},"mark":{"type":"rule","strokeWidth":2,"color":"#000"},"encoding":{"x":{"field":"to","type":"nominal"},"y":{"field":"y","type":"quantitative"},"y2":{"field":"yl"}}},
    {"data":{"name":"brD"},"mark":{"type":"text","fontSize":14,"fontWeight":"bold","align":"left","baseline":"alphabetic","dx":-1,"dy":-4},"encoding":{"x":{"field":"from","type":"nominal"},"y":{"field":"y","type":"quantitative"},"text":{"field":"label"}}}
   ]
  }]}
]},
{"spacing":30,"hconcat":[
 {"spacing":0,"hconcat":[
  {"width":7,"height":10,"data":{"values":[]},"mark":{"type":"point","opacity":0}},
  {"title":{"text":"E","anchor":"start","frame":"bounds","fontSize":22,"fontWeight":"normal","dx":-31,"offset":0},
   "vconcat":[{
    "width":199,"height":160,
    "title":{"text":"Bcl-2","fontSize":23,"fontWeight":"normal","frame":"bounds","offset":5,"dx":-2},
    "data":{"name":"barE"},
    "encoding":{
     "x":{"field":"g","type":"nominal","sort":null,"scale":{"domain":["Sham","Sham IL-7","CLP","CLP IL-7"],"paddingInner":0.3,"paddingOuter":0.15},"axis":{"title":null,"labelAngle":0,"labelFontSize":12,"labelFontWeight":"bold","labelPadding":3,"tickSize":6,"tickWidth":2,"domainWidth":2,"labelOverlap":false,"labelBound":false}},
     "y":{"field":"m","type":"quantitative","scale":{"domain":[0,17.5],"nice":false},"axis":{"title":["Relative change \u00a0in mRNA abundance","(Sham, untreated = 1)"],"values":[0,5,10,15],"labelFontSize":13,"labelFontWeight":"bold","labelPadding":1,"tickSize":7,"tickWidth":2,"domainWidth":2,"titleFontSize":11,"titleFontWeight":"bold","titleLineHeight":14,"titlePadding":2}}
    },
    "layer":[
     {"mark":{"type":"bar","fill":"#fff"},"encoding":{"y2":{"datum":0}}},
     {"transform":[{"filter":"datum.g==='CLP IL-7'"}],"mark":{"type":"bar","fill":"#000"},"encoding":{"y2":{"datum":0}}},
     {"transform":[{"filter":"datum.g==='Sham IL-7'"}],"mark":{"type":"bar","fill":{"expr":"st25"}},"encoding":{"y2":{"datum":0}}},
     {"transform":[{"filter":"datum.g==='CLP'"}],"mark":{"type":"bar","fill":{"expr":"hb2"}},"encoding":{"y2":{"datum":0}}},
     {"transform":[{"filter":"datum.g==='CLP'"}],"mark":{"type":"bar","fill":{"expr":"vb8"},"blend":"difference"},"encoding":{"y2":{"datum":0}}},
     {"mark":{"type":"bar","fillOpacity":0,"stroke":"#000","strokeWidth":1.5},"encoding":{"y2":{"datum":0}}},
     {"mark":{"type":"rule","strokeWidth":1.5,"color":"#000"},"encoding":{"y2":{"field":"e"}}},
     {"transform":[{"filter":"datum.e>datum.m"}],"mark":{"type":"tick","orient":"horizontal","size":16,"thickness":1.5,"color":"#000"},"encoding":{"y":{"field":"e","type":"quantitative"}}},
     {"transform":[{"filter":"datum.sig!==''"}],"mark":{"type":"text","fontSize":24,"fontWeight":"normal","baseline":"middle","dy":-6},"encoding":{"y":{"field":"e","type":"quantitative"},"text":{"field":"sig"}}}
    ]
   }]}
 ]},
 {"title":{"text":"F","anchor":"start","frame":"bounds","fontSize":22,"fontWeight":"normal","dx":-28,"offset":6},
  "vconcat":[{
   "width":203,"height":159,
   "title":{"text":"PUMA","fontSize":24,"fontWeight":"normal","frame":"bounds","offset":-2,"dx":7},
   "data":{"name":"barF"},
   "encoding":{
    "x":{"field":"g","type":"nominal","sort":null,"scale":{"domain":["Sham","Sham IL-7","CLP","CLP IL-7"],"paddingInner":0.3,"paddingOuter":0.15},"axis":{"title":null,"labelAngle":0,"labelFontSize":12,"labelFontWeight":"bold","labelPadding":3,"tickSize":6,"tickWidth":2,"domainWidth":2,"labelOverlap":false,"labelBound":false}},
    "y":{"field":"m","type":"quantitative","scale":{"domain":[0,1.16],"nice":false},"axis":{"title":["Relative change \u00a0in mRNA abundance","(Sham, untreated = 1)"],"values":[0,0.5,1],"labelExpr":"datum.value==0?'0':format(datum.value,'.1f')","labelFontSize":13,"labelFontWeight":"bold","labelPadding":1,"tickSize":7,"tickWidth":2,"domainWidth":2,"titleFontSize":11,"titleFontWeight":"bold","titleLineHeight":14,"titlePadding":6}}
   },
   "layer":[
    {"mark":{"type":"bar","fill":"#fff"},"encoding":{"y2":{"datum":0}}},
    {"transform":[{"filter":"datum.g==='CLP IL-7'"}],"mark":{"type":"bar","fill":"#000"},"encoding":{"y2":{"datum":0}}},
    {"transform":[{"filter":"datum.g==='Sham IL-7'"}],"mark":{"type":"bar","fill":{"expr":"st20"}},"encoding":{"y2":{"datum":0}}},
    {"transform":[{"filter":"datum.g==='CLP'"}],"mark":{"type":"bar","fill":{"expr":"hb20"}},"encoding":{"y2":{"datum":0}}},
    {"transform":[{"filter":"datum.g==='CLP'"}],"mark":{"type":"bar","fill":{"expr":"vb8"},"blend":"difference"},"encoding":{"y2":{"datum":0}}},
    {"mark":{"type":"bar","fillOpacity":0,"stroke":"#000","strokeWidth":1.5},"encoding":{"y2":{"datum":0}}},
    {"mark":{"type":"rule","strokeWidth":1.5,"color":"#000"},"encoding":{"y2":{"field":"e"}}},
    {"mark":{"type":"tick","orient":"horizontal","size":14,"thickness":1.5,"color":"#000"},"encoding":{"y":{"field":"e","type":"quantitative"}}},
    {"transform":[{"filter":"datum.sig!==''"}],"mark":{"type":"text","fontSize":24,"fontWeight":"normal","baseline":"middle","dy":-4},"encoding":{"y":{"field":"e","type":"quantitative"},"text":{"field":"sig"}}}
   ]
  }]}
]}
]
}
